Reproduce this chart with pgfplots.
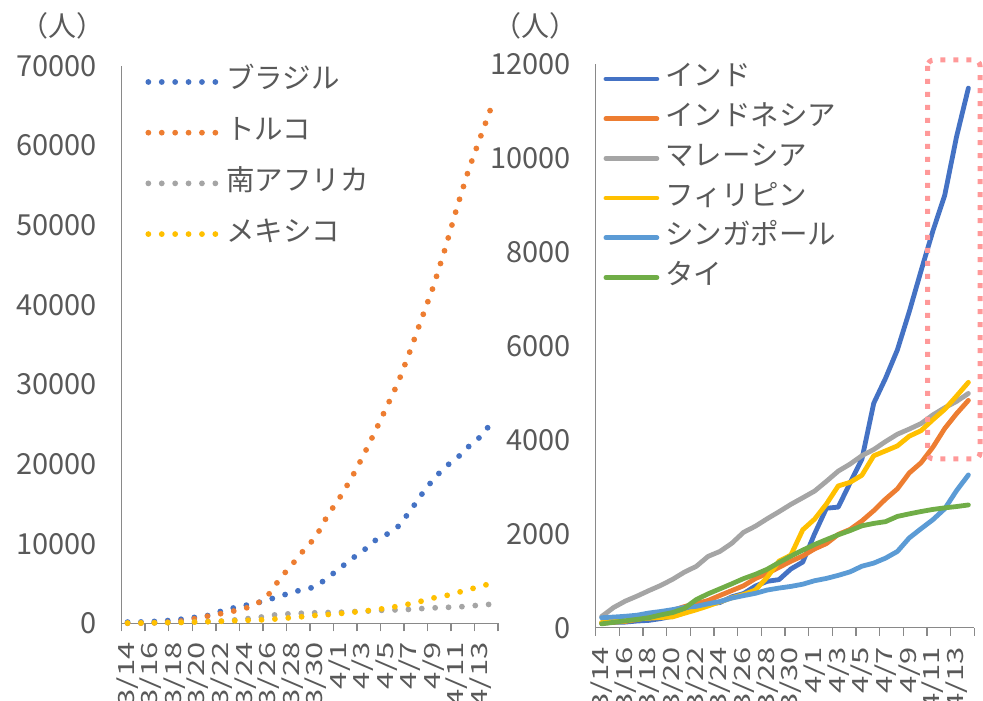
\documentclass[border=0pt]{standalone}
\usepackage{pgfplots}
\pgfplotsset{compat=1.18}
\usepackage{pgfplotstable}
\usepackage{fontspec}
\setmainfont{Noto Sans CJK JP}

\definecolor{txt}{HTML}{595959}
\definecolor{axisgray}{HTML}{898989}
\definecolor{cBlue}{HTML}{4472C4}
\definecolor{cOrange}{HTML}{ED7D31}
\definecolor{cGray}{HTML}{A5A5A5}
\definecolor{cYellow}{HTML}{FFC000}
\definecolor{cLightBlue}{HTML}{5B9BD5}
\definecolor{cGreen}{HTML}{70AD47}
\definecolor{markPink}{RGB}{255,153,153}

% cumulative confirmed cases, day 0 = 3/14 ... day 31 = 4/14
\pgfplotstableread{
d bra tur zaf mex
0 151 6 38 26
1 162 18 51 41
2 200 47 62 53
3 321 98 62 82
4 372 191 116 93
5 621 359 150 118
6 793 670 202 164
7 1021 947 240 203
8 1546 1236 274 251
9 1924 1529 402 316
10 2247 1872 554 367
11 2554 2433 709 405
12 2985 3629 927 475
13 3417 5698 1170 585
14 3904 7402 1187 717
15 4256 9217 1280 848
16 4579 10827 1326 993
17 5717 13531 1353 1094
18 6836 15679 1380 1215
19 8044 18135 1462 1378
20 9056 20921 1505 1510
21 10360 23934 1585 1688
22 11130 27069 1655 1890
23 12161 30217 1686 2143
24 14034 34109 1749 2439
25 16170 38226 1845 2785
26 18092 42282 1934 3181
27 19638 47029 2003 3441
28 20727 52167 2028 3844
29 22192 56956 2173 4219
30 23430 61049 2272 4661
31 25262 65111 2415 5014
}\leftdata

\pgfplotstableread{
d ind idn mys phl sgp tha
0 102 96 238 111 212 82
1 113 117 428 140 226 114
2 119 134 566 142 243 147
3 142 172 673 187 266 177
4 156 227 790 202 313 212
5 194 311 900 217 345 272
6 244 369 1030 230 385 322
7 330 450 1183 307 432 411
8 396 514 1306 380 455 599
9 499 579 1518 462 509 721
10 536 686 1624 552 558 827
11 657 790 1796 636 631 934
12 727 893 2031 707 683 1045
13 887 1046 2161 803 732 1136
14 987 1155 2320 1075 802 1245
15 1024 1285 2470 1418 844 1388
16 1251 1414 2626 1546 879 1524
17 1397 1528 2766 2084 926 1651
18 1998 1677 2908 2311 1000 1771
19 2543 1790 3116 2633 1049 1875
20 2567 1986 3333 3018 1114 1978
21 3082 2092 3483 3094 1189 2067
22 3588 2273 3662 3246 1309 2169
23 4778 2491 3793 3660 1375 2220
24 5311 2738 3963 3764 1481 2258
25 5916 2956 4119 3870 1623 2369
26 6725 3293 4228 4076 1910 2423
27 7598 3512 4346 4195 2108 2473
28 8446 3842 4530 4428 2299 2518
29 9205 4241 4683 4648 2532 2551
30 10453 4557 4817 4932 2918 2579
31 11487 4839 4987 5223 3252 2613
}\rightdata

\pgfplotsset{
  panel/.style={
    scale only axis,
    clip=false,
    axis x line*=bottom,
    axis y line*=left,
    axis line style={axisgray, line width=1.5pt},
    xmin=-0.5, xmax=31.5,
    xtick={0,2,...,30},
    xticklabels={3/14,3/16,3/18,3/20,3/22,3/24,3/26,3/28,3/30,4/1,4/3,4/5,4/7,4/9,4/11,4/13},
    minor xtick={-0.5,1.5,...,31.5},
    major tick length=0pt,
    minor tick length=8pt,
    tick align=outside,
    minor tick style={axisgray, line width=1.5pt},
    ymin=0,
    scaled y ticks=false,
    /pgf/number format/1000 sep={},
    /pgf/number format/assume math mode=true,
    tick label style={inner sep=0pt, text=txt},
    yticklabel style={font=\fontsize{29}{30}\selectfont, anchor=east},
    xticklabel style={font=\fontsize{31}{32}\selectfont, rotate=90, anchor=east, yscale=0.72},
    yticklabel shift=24.5pt,
    xticklabel shift=19pt,
    legend cell align=left,
  },
  dotline/.style={line width=5.8pt, line cap=round, dash pattern=on 0pt off 13.4pt},
  solidline/.style={line width=4.8pt, line cap=round, line join=round},
}

\begin{document}
\begin{tikzpicture}[x=1pt,y=1pt]

% left panel: dotted series
\begin{axis}[panel,
  at={(121.7pt,77.7pt)}, anchor=south west,
  width=376.3pt, height=557.3pt,
  ymax=70000, ytick={0,10000,...,70000},
  legend image code/.code={\draw[#1] (0pt,0pt) -- (67pt,0pt);},
  legend style={at={(rel axis cs:0.0626,0.9968)}, anchor=north west,
    draw=none, fill=none, inner sep=0pt, row sep=22.7pt, column sep=8pt,
    font=\fontsize{28.5}{30}\selectfont, text=txt,
    nodes={inner sep=0pt, text height=21pt, text depth=7pt}},
]
\addplot[cBlue, dotline] table[x=d, y=bra]{\leftdata};
\addlegendentry{ブラジル}
\addplot[cOrange, dotline] table[x=d, y=tur]{\leftdata};
\addlegendentry{トルコ}
\addplot[cGray, dotline] table[x=d, y=zaf]{\leftdata};
\addlegendentry{南アフリカ}
\addplot[cYellow, dotline] table[x=d, y=mex]{\leftdata};
\addlegendentry{メキシコ}
\end{axis}

% right panel: solid series
\begin{axis}[panel,
  at={(595.7pt,73.3pt)}, anchor=south west,
  width=378.6pt, height=563.7pt,
  ymax=12000, ytick={0,2000,...,12000},
  legend image code/.code={\draw[#1] (0pt,0pt) -- (51pt,0pt);},
  legend style={at={(rel axis cs:0.0201,0.9986)}, anchor=north west,
    draw=none, fill=none, inner sep=0pt, row sep=11.7pt, column sep=6pt,
    font=\fontsize{28.5}{30}\selectfont, text=txt,
    nodes={inner sep=0pt, text height=21pt, text depth=7pt}},
]
\addplot[cBlue, solidline] table[x=d, y=ind]{\rightdata};
\addlegendentry{インド}
\addplot[cOrange, solidline] table[x=d, y=idn]{\rightdata};
\addlegendentry{インドネシア}
\addplot[cGray, solidline] table[x=d, y=mys]{\rightdata};
\addlegendentry{マレーシア}
\addplot[cYellow, solidline] table[x=d, y=phl]{\rightdata};
\addlegendentry{フィリピン}
\addplot[cLightBlue, solidline] table[x=d, y=sgp]{\rightdata};
\addlegendentry{シンガポール}
\addplot[cGreen, solidline] table[x=d, y=tha]{\rightdata};
\addlegendentry{タイ}
\end{axis}

% unit labels
\node[font=\fontsize{28}{30}\selectfont, text=txt] at (62.5pt,675.5pt) {（人）};
\node[font=\fontsize{28}{30}\selectfont, text=txt] at (535pt,675.3pt) {（人）};

% highlight frame around the latest days
\draw[markPink, line width=5pt, dash pattern=on 5pt off 8pt, rounded corners=6pt]
  (927.7pt,641pt) rectangle (980pt,242pt);

\pgfresetboundingbox
\path[use as bounding box] (0pt,0pt) rectangle (983pt,701pt);
\end{tikzpicture}
\end{document}
